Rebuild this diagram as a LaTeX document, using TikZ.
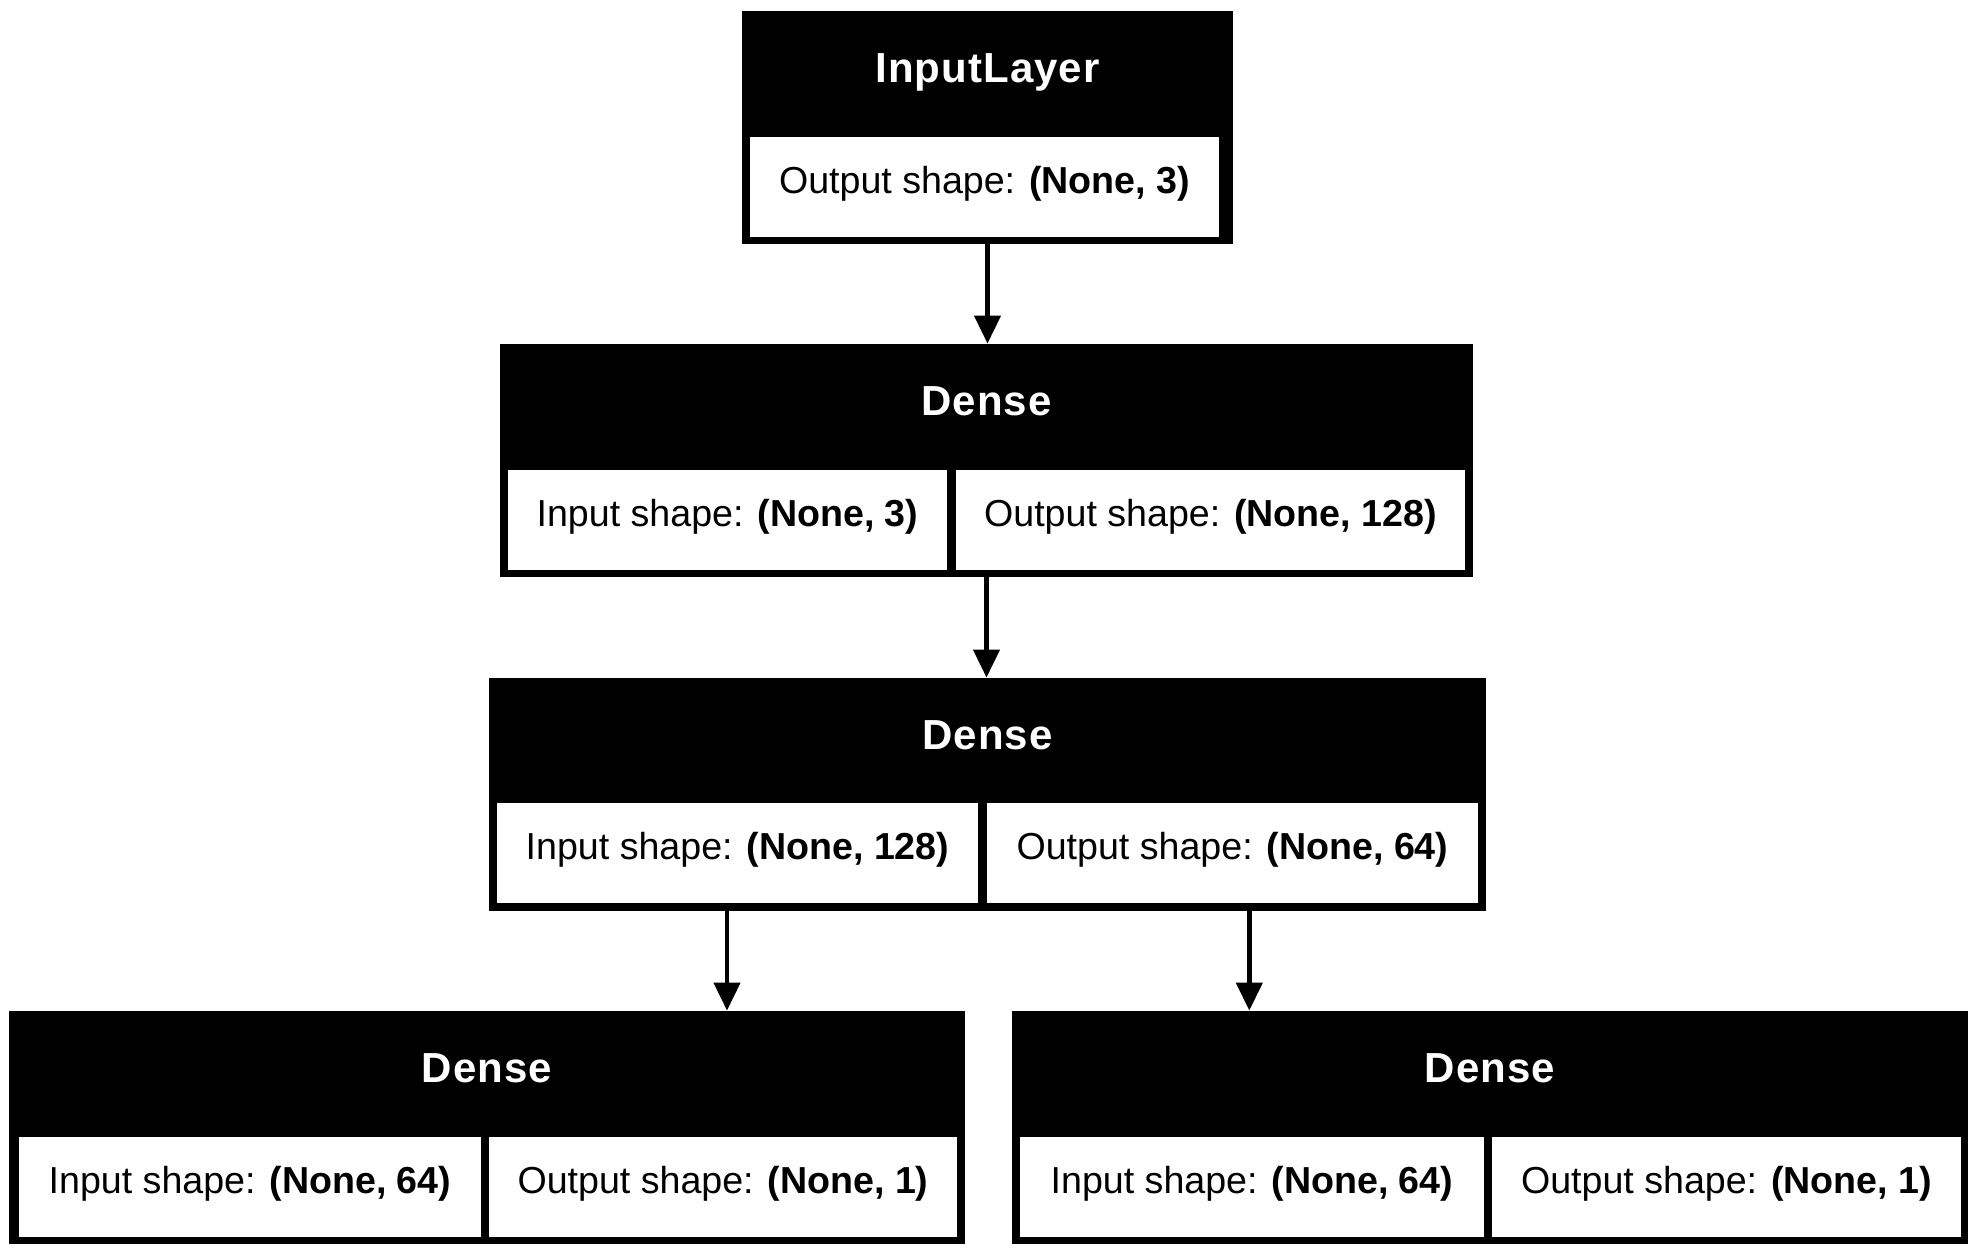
\documentclass[tikz,border=0pt]{standalone}
\usepackage{fontspec}
\setmainfont{Liberation Sans}
\newfontfamily\headfont[LetterSpace=2.5]{Liberation Sans}
\usetikzlibrary{arrows.meta, positioning}

\begin{document}
\begin{tikzpicture}[x=0.5pt, y=-0.5pt, >={Triangle[length=14pt, width=13pt]},
    layerbox/.style={rectangle, fill=black, inner sep=0pt, minimum height=116.5pt},
    cellbox/.style={rectangle, fill=white, inner sep=0pt, minimum height=50pt, text height=0.82em, text depth=0.2em, font=\fontsize{18.8pt}{22pt}\selectfont},
    heading/.style={anchor=base, text=white, font=\headfont\bfseries\fontsize{21pt}{25pt}\selectfont}]
    \useasboundingbox (0,0) rectangle (1978,1256);

    \node [layerbox, minimum width=245.5pt] (input) at (987.5,127.5) {};
    \node [heading] (inputtitle) at ([yshift=-35.75pt]input.north) {InputLayer};
    \node [cellbox, minimum width=234.5pt] (inputout) at (984.5,187) {Output shape: \textbf{(None, 3)}};

    \node [layerbox, minimum width=486.5pt] (dense1) at (986.5,460.5) {};
    \node [heading] (dense1title) at ([yshift=-35.75pt]dense1.north) {Dense};
    \node [cellbox, minimum width=219.5pt] (dense1in) at (727.5,520.5) {Input shape: \textbf{(None, 3)}};
    \node [cellbox, minimum width=254.5pt] (dense1out) at (1210.5,520.5) {Output shape: \textbf{(None, 128)}};

    \node [layerbox, minimum width=498.5pt] (dense2) at (987.5,794.5) {};
    \node [heading] (dense2title) at ([yshift=-35.75pt]dense2.north) {Dense};
    \node [cellbox, minimum width=240.5pt] (dense2in) at (737.5,853.5) {Input shape: \textbf{(None, 128)}};
    \node [cellbox, minimum width=245.5pt] (dense2out) at (1232.5,853.5) {Output shape: \textbf{(None, 64)}};

    \node [layerbox, minimum width=478pt] (dense3) at (487,1127.5) {};
    \node [heading] (dense3title) at ([yshift=-35.75pt]dense3.north) {Dense};
    \node [cellbox, minimum width=231pt] (dense3in) at (250,1187) {Input shape: \textbf{(None, 64)}};
    \node [cellbox, minimum width=234pt] (dense3out) at (723,1187) {Output shape: \textbf{(None, 1)}};

    \node [layerbox, minimum width=478pt] (dense4) at (1490,1127.5) {};
    \node [heading] (dense4title) at ([yshift=-35.75pt]dense4.north) {Dense};
    \node [cellbox, minimum width=232pt] (dense4in) at (1252,1187) {Input shape: \textbf{(None, 64)}};
    \node [cellbox, minimum width=234.5pt] (dense4out) at (1726.5,1187) {Output shape: \textbf{(None, 1)}};

    \draw[->, line width=2.2pt] (input.south) -- (input.south |- dense1.north);
    \draw[->, line width=2.2pt] (dense1.south) -- (dense1.south |- dense2.north);
	\draw[->, line width=2.2pt] ([xshift=-130.25pt]dense2.south) -- ([xshift=120pt]dense3.north);
	\draw[->, line width=2.2pt] ([xshift=130.9pt]dense2.south) -- ([xshift=-120.35pt]dense4.north);
\end{tikzpicture}
\end{document}
